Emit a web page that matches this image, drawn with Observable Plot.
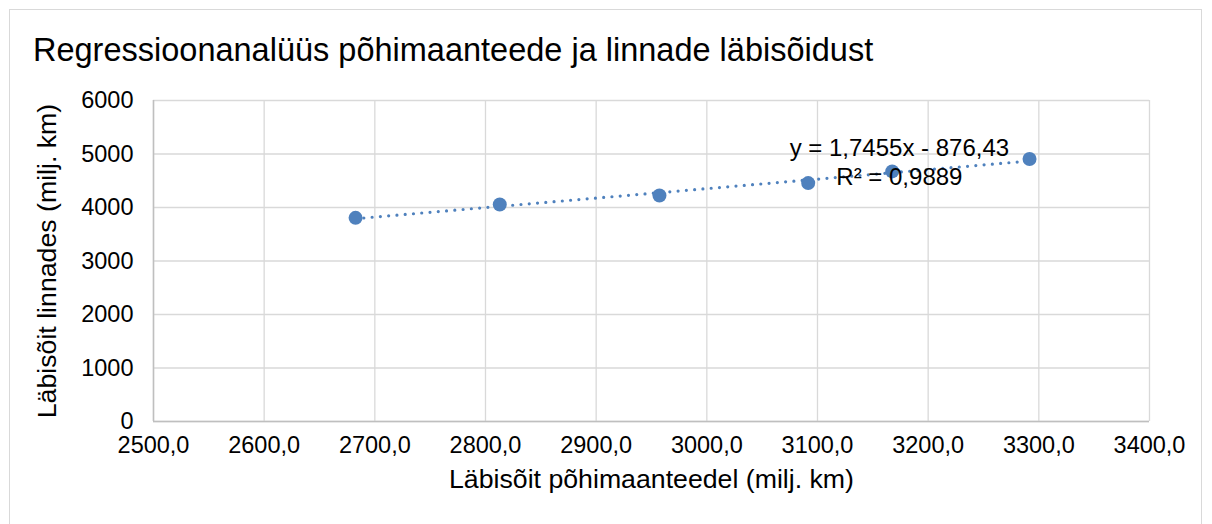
<!DOCTYPE html>
<html>
<head>
<meta charset="utf-8">
<script src="https://cdn.jsdelivr.net/npm/d3@7"></script>
<script src="https://cdn.jsdelivr.net/npm/@observablehq/plot@0.6"></script>
<style>
  html, body { margin: 0; padding: 0; background: #fff; }
  #wrap { position: relative; width: 1212px; height: 524px; overflow: hidden; font-family: "Liberation Sans", Arial, sans-serif; }
  #border { position: absolute; left: 9px; top: 9px; width: 1193px; height: 530px; border: 1px solid #d9d9d9; box-sizing: border-box; }
  #title { position: absolute; left: 33px; top: 31px; margin: 0; font-size: 32.5px; font-weight: normal; color: #000; line-height: 38px; white-space: nowrap; }
  #chart { position: absolute; left: 0; top: 0; }
</style>
</head>
<body>
<div id="wrap">
  <div id="border"></div>
  <h1 id="title">Regressioonanalüüs põhimaanteede ja linnade läbisõidust</h1>
  <div id="chart"></div>
</div>
<script>
// Data
const xValues = [2682.6, 2812.9, 2957.2, 3091.6, 3167.5, 3291.6]; // Läbisõit põhimaanteedel (milj. km)
const yValues = [3807, 4056, 4225, 4456, 4675, 4906];             // Läbisõit linnades (milj. km)
const xTicks = [2500, 2600, 2700, 2800, 2900, 3000, 3100, 3200, 3300, 3400];
const yTicks = [0, 1000, 2000, 3000, 4000, 5000, 6000];
const xTitle = "Läbisõit põhimaanteedel (milj. km)";
const yTitle = "Läbisõit linnades (milj. km)";
const equationLines = ["y = 1,7455x - 876,43", "R² = 0,9889"];
const labelPos = { x: 3174, y: 4860 };

const data = xValues.map((x, i) => ({ x, y: yValues[i] }));
const blue = "#4f81bd";
const font = "\"Liberation Sans\", Arial, sans-serif";

const chart = Plot.plot({
  width: 1212,
  height: 524,
  marginLeft: 153,
  marginRight: 63,
  marginTop: 100,
  marginBottom: 103,
  style: { fontFamily: font, fontSize: "23.5px", color: "#000", background: "transparent" },
  x: { domain: [2500, 3400], label: null },
  y: { domain: [0, 6000], label: null },
  marks: [
    Plot.gridX(xTicks, { stroke: "#d9d9d9", strokeOpacity: 1, strokeWidth: 1.3 }),
    Plot.gridY(yTicks, { stroke: "#d9d9d9", strokeOpacity: 1, strokeWidth: 1.3 }),
    Plot.ruleX([2500], { stroke: "#bfbfbf", strokeWidth: 1.5 }),
    Plot.ruleY([0], { stroke: "#bfbfbf", strokeWidth: 1.5 }),
    Plot.axisX(xTicks, {
      tickSize: 0, tickPadding: 15, fontSize: 23.5, fill: "#000",
      tickFormat: d => d.toFixed(1).replace(".", ","), label: null
    }),
    Plot.axisY(yTicks, {
      tickSize: 0, tickPadding: 20, fontSize: 23.5, fill: "#000",
      tickFormat: d => String(d), label: null
    }),
    Plot.text([xTitle], { frameAnchor: "bottom", dy: 66, fontSize: 26.7, fill: "#000", text: d => d }),
    Plot.text([yTitle], { frameAnchor: "left", textAnchor: "middle", dx: -106, rotate: -90, fontSize: 26.7, fill: "#000", text: d => d }),
    Plot.linearRegressionY(data, {
      x: "x", y: "y", ci: 0, stroke: blue, strokeWidth: 3.2,
      strokeDasharray: "0 8.3", strokeLinecap: "round"
    }),
    Plot.dot(data, { x: "x", y: "y", r: 7, fill: blue, stroke: "none" }),
    Plot.text([equationLines.join("\n")], {
      x: () => labelPos.x, y: () => labelPos.y, text: d => d,
      fontSize: 24, fill: "#000", lineHeight: 1.17, textAnchor: "middle"
    })
  ]
});
document.getElementById("chart").appendChild(chart);
</script>
</body>
</html>
